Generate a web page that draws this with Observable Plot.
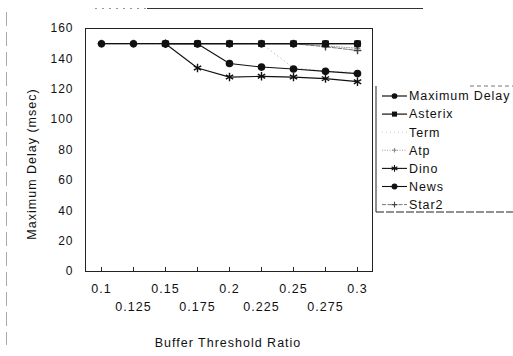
<!DOCTYPE html>
<html>
<head>
<meta charset="utf-8">
<script src="https://cdn.jsdelivr.net/npm/d3@7"></script>
<script src="https://cdn.jsdelivr.net/npm/@observablehq/plot@0.6"></script>
<style>
  html, body { margin: 0; padding: 0; background: #fff; }
  #wrap { position: relative; width: 513px; height: 356px; overflow: hidden; }
  #deco { position: absolute; left: 0; top: 0; pointer-events: none; }
</style>
</head>
<body>
<div id="wrap"></div>
<script>
// ---- data ----
const ratios = ["0.1","0.125","0.15","0.175","0.2","0.225","0.25","0.275","0.3"];
const yTicks = [0,20,40,60,80,100,120,140,160];
const seriesNames = ["Maximum Delay","Asterix","Term","Atp","Dino","News","Star2"];
const maxDelay = [150,150,150,150,150,150,150,150,150];
const asterix  = [null,null,150,150,150,150,150,150,150];
const term     = [150,150,150,150,150,150,134,132,131];
const atp      = [150,150,150,150,150,150,150,148.5,147];
const dino     = [null,null,150,134,128,128.5,128,127,125];
const news     = [null,null,150,150,137,134.6,133.3,131.8,130.3];
const star2    = [150,150,150,150,150,150,150,148,145.5];

const values = {"Maximum Delay": maxDelay, "Asterix": asterix, "Term": term, "Atp": atp, "Dino": dino, "News": news, "Star2": star2};
const styles = {
  "Maximum Delay": {stroke: "#111", width: 1.2, dash: null, symbol: "circle", r: 3.7, fill: "#111"},
  "Asterix":       {stroke: "#111", width: 1.2, dash: null, symbol: "square", r: 3.7, fill: "#111"},
  "Term":          {stroke: "#bbb", width: 0.8, dash: "1,3", symbol: null},
  "Atp":           {stroke: "#888", width: 0.8, dash: "1,1.5", symbol: "plus", r: 2, fill: "none", sym_stroke: "#888"},
  "Dino":          {stroke: "#111", width: 1.1, dash: null, symbol: "asterisk", r: 4, fill: "none", sym_stroke: "#111"},
  "News":          {stroke: "#111", width: 1.1, dash: null, symbol: "circle", r: 3.8, fill: "#111"},
  "Star2":         {stroke: "#666", width: 0.9, dash: "4,1.5", symbol: "plus", r: 2.6, fill: "none", sym_stroke: "#444"}
};
const drawOrder = ["Term","Atp","Star2","Dino","News","Maximum Delay","Asterix"];

const rows = [];
for (const s of seriesNames) values[s].forEach((v, i) => { if (v != null) rows.push({series: s, ratio: ratios[i], value: v}); });

const marks = [];
marks.push(Plot.ruleX(ratios, {x: d => d, y1: 0, y2: 2.6, stroke: "#222", strokeWidth: 1}));
for (const s of drawOrder) {
  const st = styles[s];
  const d = rows.filter(r => r.series === s);
  marks.push(Plot.line(d, {x: "ratio", y: "value", stroke: st.stroke, strokeWidth: st.width, strokeDasharray: st.dash}));
}
for (const s of drawOrder) {
  const st = styles[s];
  if (!st.symbol) continue;
  const d = rows.filter(r => r.series === s);
  marks.push(Plot.dot(d, {x: "ratio", y: "value", symbol: st.symbol, r: st.r,
    fill: st.fill, stroke: st.sym_stroke || "none", strokeWidth: 1.4}));
}
marks.push(Plot.frame({stroke: "#222", strokeWidth: 1}));
marks.push(Plot.axisY({ticks: yTicks, tickSize: 0, tickPadding: 12, label: null, fontSize: 12}));
marks.push(Plot.axisX(ratios.filter((d, i) => i % 2 === 0), {tickSize: 0, tickPadding: 13, label: null, fontSize: 12.5}));
marks.push(Plot.axisX(ratios.filter((d, i) => i % 2 === 1), {tickSize: 0, tickPadding: 31, label: null, fontSize: 12.5}));

const chart = Plot.plot({
  width: 513,
  height: 356,
  marginLeft: 85,
  marginRight: 141,
  marginTop: 28,
  marginBottom: 85,
  style: {fontFamily: "'Liberation Sans', Arial, sans-serif", fontSize: "12px", letterSpacing: "1px", color: "#111", background: "#fff", overflow: "visible"},
  x: {type: "point", domain: ratios, padding: 0.48},
  y: {domain: [0, 160]},
  marks
});

const svg = d3.select(chart);
// axis titles
svg.append("text")
  .attr("transform", "translate(36,164) rotate(-90)")
  .attr("text-anchor", "middle")
  .attr("font-size", 12.5)
  .attr("fill", "#111")
  .text("Maximum Delay (msec)");
svg.append("text")
  .attr("x", 228).attr("y", 347)
  .attr("text-anchor", "middle")
  .attr("font-size", 12.5)
  .attr("fill", "#111")
  .text("Buffer Threshold Ratio");

// legend
const lg = svg.append("g").attr("text-anchor", "start");
lg.append("line").attr("x1", 376).attr("x2", 376).attr("y1", 86).attr("y2", 212).attr("stroke", "#222");
lg.append("line").attr("x1", 376).attr("x2", 513).attr("y1", 212).attr("y2", 212).attr("stroke", "#222").attr("stroke-dasharray", "8,2");
lg.append("line").attr("x1", 470).attr("x2", 513).attr("y1", 86).attr("y2", 86).attr("stroke", "#777").attr("stroke-dasharray", "4,3");
const symMap = {circle: d3.symbolCircle, square: d3.symbolSquare, plus: d3.symbolPlus, asterisk: d3.symbolAsterisk};
seriesNames.forEach((s, i) => {
  const st = styles[s];
  const y = 96 + i * 18.1;
  lg.append("line").attr("x1", 382).attr("x2", 407).attr("y1", y).attr("y2", y)
    .attr("stroke", st.stroke).attr("stroke-width", st.width).attr("stroke-dasharray", st.dash);
  if (st.symbol) {
    const area = Math.PI * st.r * st.r * 0.6;
    lg.append("path").attr("transform", `translate(394.5,${y})`)
      .attr("d", d3.symbol(symMap[st.symbol], area)())
      .attr("fill", st.fill).attr("stroke", st.sym_stroke || "none").attr("stroke-width", 1.1);
  }
  lg.append("text").attr("x", 409).attr("y", y).attr("dy", "0.35em")
    .attr("text-anchor", "start")
    .attr("font-size", 12.5).attr("letter-spacing", "0.9px").attr("fill", "#111").text(s);
});

const wrap = document.getElementById("wrap");
wrap.appendChild(chart);

// scan border remnants
const deco = d3.select(wrap).append("svg").attr("id", "deco").attr("width", 513).attr("height", 356);
deco.append("line").attr("x1", 147).attr("x2", 423).attr("y1", 8.5).attr("y2", 8.5).attr("stroke", "#333").attr("stroke-width", 1);
deco.append("line").attr("x1", 95).attr("x2", 147).attr("y1", 8.5).attr("y2", 8.5).attr("stroke", "#999").attr("stroke-dasharray", "2,5");
deco.append("line").attr("x1", 6.5).attr("x2", 6.5).attr("y1", 12).attr("y2", 345).attr("stroke", "#aaa").attr("stroke-dasharray", "14,6");
</script>
</body>
</html>
